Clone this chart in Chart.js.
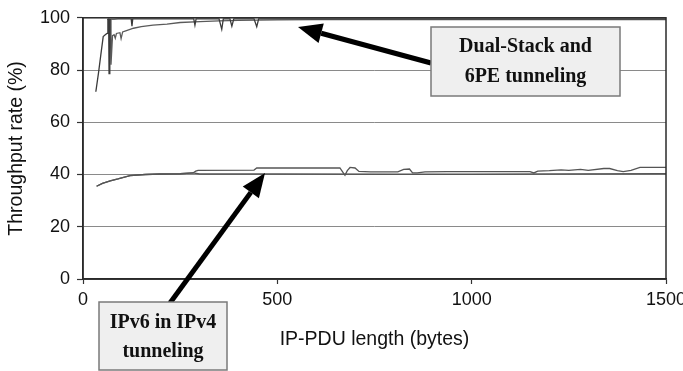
<!DOCTYPE html>
<html><head><meta charset="utf-8">
<script src="https://cdn.jsdelivr.net/npm/chart.js@4/dist/chart.umd.min.js"></script>
<style>
html,body{margin:0;padding:0;background:#fff;overflow:hidden;width:683px;height:371px}
#wrap{width:700px;height:371px}
</style></head>
<body><div id="wrap"><canvas id="c" width="700" height="371"></canvas></div>
<script>
// ---- data ----
const xTickValues = [0, 500, 1000, 1500];
const yTickValues = [0, 20, 40, 60, 80, 100];

// Dual-Stack / 6PE runs (upper group)
const sixPELen  = [33, 40, 46, 52, 58, 62, 64, 66, 67, 69, 72, 80, 90, 100, 124, 126, 128, 150, 200, 285, 288, 291, 350, 357, 361, 378, 383, 388, 440, 447, 452, 600, 800, 1000, 1200, 1500];
const sixPERate = [71.7, 79, 86, 92.8, 93.6, 94, 99.3, 99.5, 78.6, 99.4, 99.5, 99.5, 99.6, 99.6, 99.6, 96.8, 99.6, 99.6, 99.6, 99.6, 97.2, 99.6, 99.6, 95.6, 99.6, 99.6, 96.8, 99.6, 99.6, 96.6, 99.6, 99.6, 99.6, 99.6, 99.6, 99.6];

const dualStackLen  = [62, 64, 70, 72, 76, 80, 83, 86, 95, 98, 102, 110, 130, 150, 180, 216, 250, 301, 350, 400, 500, 600, 800, 1000, 1200, 1500];
const dualStackRate = [99.5, 99.5, 99.3, 82, 93.2, 93.5, 92.2, 94, 94.3, 92, 94.6, 95, 96, 96.6, 97.2, 97.6, 98.2, 98.5, 98.8, 99, 99.2, 99.3, 99.3, 99.3, 99.3, 99.3];

// IPv6-in-IPv4 tunneling runs (lower group)
const tunnelALen  = [35, 50, 70, 90, 121, 160, 198, 250, 283, 290, 296, 440, 447, 600, 661, 668, 674, 680, 687, 700, 710, 740, 810, 825, 840, 848, 860, 880, 936, 1080, 1150, 1160, 1170, 1200, 1230, 1250, 1280, 1300, 1340, 1355, 1375, 1390, 1410, 1433, 1500];
const tunnelARate = [35.5, 36.6, 37.6, 38.3, 39.6, 40, 40.2, 40.3, 40.6, 41.3, 41.6, 41.7, 42.5, 42.5, 42.5, 41, 39.7, 41.5, 42.7, 42.5, 41.2, 41, 41, 42, 42.1, 40.6, 40.6, 41, 41.1, 41.1, 41.1, 40.6, 41.3, 41.5, 41.8, 41.6, 42, 41.6, 42.3, 42.3, 41.5, 41.1, 41.6, 42.7, 42.7];

const tunnelBLen  = [35, 50, 70, 90, 121, 160, 198, 250, 283, 300, 500, 800, 1000, 1200, 1500];
const tunnelBRate = [35.5, 36.6, 37.6, 38.3, 39.6, 40, 40.2, 40.3, 40.6, 40.2, 40.2, 40.1, 40.1, 40.2, 40.3];

const xTitle = 'IP-PDU length (bytes)';
const yTitle = 'Throughput rate (%)';
const noteTop = ['Dual-Stack and', '6PE tunneling'];
const noteBottom = ['IPv6 in IPv4', 'tunneling'];

// ---- build ----
const pts = (xs, ys) => xs.map((x, i) => ({x, y: ys[i]}));
const ds = (label, xs, ys, color) => ({label, data: pts(xs, ys), borderColor: color, borderWidth: 1.3, pointRadius: 0, tension: 0, fill: false});

function arrow(ctx, x1, y1, x2, y2) {
  const ang = Math.atan2(y2 - y1, x2 - x1);
  const L = 24, W = 10;
  const bx = x2 - L * Math.cos(ang), by = y2 - L * Math.sin(ang);
  ctx.save();
  ctx.strokeStyle = '#000'; ctx.fillStyle = '#000'; ctx.lineWidth = 5; ctx.lineCap = 'butt';
  ctx.beginPath(); ctx.moveTo(x1, y1); ctx.lineTo(bx, by); ctx.stroke();
  ctx.beginPath();
  ctx.moveTo(x2, y2);
  ctx.lineTo(bx + W * Math.sin(ang), by - W * Math.cos(ang));
  ctx.lineTo(bx - W * Math.sin(ang), by + W * Math.cos(ang));
  ctx.closePath(); ctx.fill();
  ctx.restore();
}
function box(ctx, x, y, w, h, lines, ys) {
  ctx.save();
  ctx.fillStyle = '#efefef'; ctx.fillRect(x, y, w, h);
  ctx.strokeStyle = '#7a7a7a'; ctx.lineWidth = 1.5; ctx.strokeRect(x, y, w, h);
  ctx.fillStyle = '#111'; ctx.font = 'bold 20px "Liberation Serif", "Times New Roman", serif';
  ctx.textAlign = 'center'; ctx.textBaseline = 'middle';
  lines.forEach((t, i) => ctx.fillText(t, x + w / 2, ys[i]));
  ctx.restore();
}

const decor = {
  id: 'decor',
  afterDatasetsDraw(chart) {
    const {ctx, chartArea: a} = chart;
    ctx.save();
    ctx.strokeStyle = '#2a2a2a'; ctx.lineWidth = 1.5;
    ctx.strokeRect(a.left, a.top, a.right - a.left, a.bottom - a.top);
    ctx.restore();
  },
  afterDraw(chart) {
    const ctx = chart.ctx;
    arrow(ctx, 431, 63, 298, 27);
    box(ctx, 431, 27, 189, 69, noteTop, [47, 77]);
    arrow(ctx, 170, 303, 265, 173);
    box(ctx, 99, 302, 128, 68, noteBottom, [323, 352]);
  }
};

const tickFont = {family: '"Liberation Sans", Arial, sans-serif', size: 18};
const titleFont = {family: '"Liberation Sans", Arial, sans-serif', size: 19.5};

new Chart(document.getElementById('c'), {
  type: 'line',
  data: {datasets: [
    ds('6PE', sixPELen, sixPERate, '#3a3a3a'),
    ds('Dual-Stack', dualStackLen, dualStackRate, '#5a5a5a'),
    ds('IPv6 in IPv4 A', tunnelALen, tunnelARate, '#555'),
    ds('IPv6 in IPv4 B', tunnelBLen, tunnelBRate, '#555')
  ]},
  options: {
    responsive: false, animation: false, devicePixelRatio: 1,
    layout: {padding: {left: 0, top: 14, right: 34, bottom: 0}},
    plugins: {legend: {display: false}, tooltip: {enabled: false}},
    scales: {
      x: {
        type: 'linear', min: 0, max: 1500,
        afterBuildTicks: s => { s.ticks = xTickValues.map(v => ({value: v})); },
        afterFit: s => { s.height = 92; },
        ticks: {font: tickFont, color: '#111', padding: 5, maxRotation: 0, callback: v => String(v)},
        grid: {drawOnChartArea: false, drawTicks: true, tickLength: 5, tickColor: '#333', tickWidth: 1.2},
        border: {color: '#2a2a2a', width: 1.5},
        title: {display: true, text: xTitle, font: titleFont, color: '#111', padding: {top: 0, bottom: 20}}
      },
      y: {
        min: 0, max: 100,
        afterBuildTicks: s => { s.ticks = yTickValues.map(v => ({value: v})); },
        afterFit: s => { s.width = 83; },
        ticks: {font: tickFont, color: '#111', padding: 7, callback: v => String(v)},
        grid: {color: '#8a8a8a', lineWidth: 1, tickLength: 6, tickColor: '#333', tickWidth: 1.2},
        border: {color: '#2a2a2a', width: 1.5},
        title: {display: true, text: yTitle, font: titleFont, color: '#111', padding: {top: 5, bottom: 0}}
      }
    }
  },
  plugins: [decor]
});
</script>
</body></html>
